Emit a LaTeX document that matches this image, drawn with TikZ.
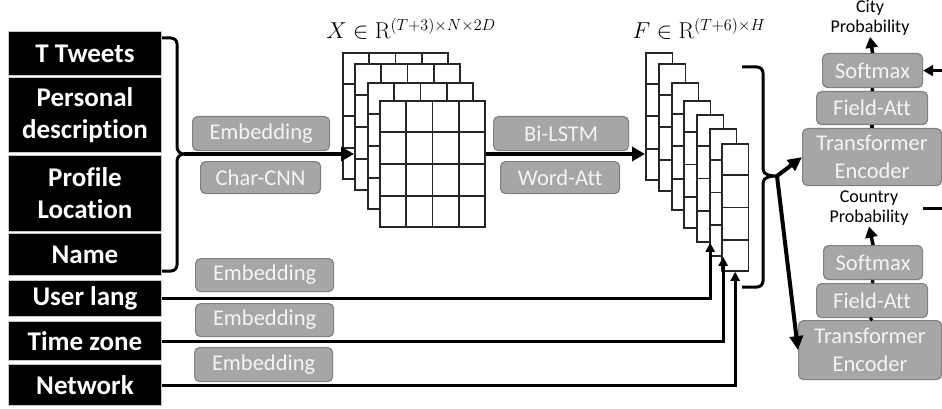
\documentclass[tikz,border=0pt]{standalone}
\usepackage{fix-cm}
\usepackage[no-math]{fontspec}
\setmainfont{Carlito}[Ligatures=CommonOff]
\usetikzlibrary{arrows.meta,calc}
\definecolor{gfill}{HTML}{A6A6A6}
\definecolor{gedge}{HTML}{808080}
\definecolor{gtext}{HTML}{F4F4F4}
\definecolor{gridc}{HTML}{262626}
\begin{document}
\begin{tikzpicture}[x=1pt,y=-1pt,
  blackbox/.style={draw=gray!45, line width=1pt, fill=black, text=white,
    font=\fontsize{27}{32}\selectfont\bfseries, align=center, inner sep=0pt,
    anchor=north west, minimum width=153pt},
  graybox/.style={draw=gedge, line width=1.2pt, fill=gfill, text=gtext,
    rounded corners=5pt, font=\fontsize{22.5}{28}\selectfont, align=center,
    inner sep=0pt, anchor=north west},
  problabel/.style={font=\fontsize{18}{20}\selectfont, align=center, inner sep=1pt},
  mathlabel/.style={font=\fontsize{23}{26}\selectfont, inner sep=0pt},
  xlayer/.style={draw=gridc, line width=1.8pt, fill=white, inner sep=0pt,
    anchor=north west, minimum width=105pt, minimum height=126pt},
  flayer/.style={draw=gridc, line width=1.8pt, fill=white, inner sep=0pt,
    anchor=north west, minimum width=26.5pt, minimum height=127pt},
  gridline/.style={draw=gridc, line width=1.8pt},
  mainarrow/.style={line width=4.5pt, -{Triangle[length=13pt,width=14pt]}},
  inarrow/.style={line width=3pt, -{Triangle[length=9pt,width=9pt]}},
  bracel/.style={line width=3pt},
  bigarrow/.style={line width=4pt, -{Triangle[length=14pt,width=13pt]}},
  vline/.style={line width=3.5pt},
  uparrow/.style={line width=3.5pt, -{Triangle[length=11pt,width=12pt]}},
  linkarrow/.style={line width=3pt, -{Triangle[length=10pt,width=11pt]}}
]
\path[use as bounding box] (0,0) rectangle (942,409);
\clip (0,0) rectangle (942,409);
\fill[white] (0,0) rectangle (942,409);

% left black boxes
\node[blackbox, minimum height=44pt] (tweets) at (8,31) {T Tweets};
\node[blackbox, minimum height=75pt] (desc) at (8,77) {Personal\\description};
\node[blackbox, minimum height=76pt] (loc) at (8,155) {Profile\\Location};
\node[blackbox, minimum height=42pt] (name) at (8,233) {Name};
\node[blackbox, minimum height=36pt] (lang) at (8,280) {User lang};
\node[blackbox, minimum height=39pt] (tz) at (8,321) {Time zone};
\node[blackbox, minimum height=41pt] (net) at (8,364) {Network};

% gray boxes
\node[graybox, minimum width=137pt, minimum height=34pt] (emb1) at (192,116) {Embedding};
\node[graybox, minimum width=120pt, minimum height=32pt] (cnn) at (200,161) {Char-CNN};
\node[graybox, minimum width=138pt, minimum height=33pt] (emb2) at (195,258) {Embedding};
\node[graybox, minimum width=138pt, minimum height=33pt] (emb3) at (195,303) {Embedding};
\node[graybox, minimum width=138pt, minimum height=34pt] (emb4) at (194,347) {Embedding};
\node[graybox, minimum width=135pt, minimum height=34pt] (lstm) at (493,116) {Bi-LSTM};
\node[graybox, minimum width=119pt, minimum height=32pt] (watt) at (500,161) {Word-Att};

% X tensor
\foreach \i/\px/\py in {1/342/52, 2/354/63, 3/367/82, 4/379/100} {
  \node[xlayer] (X\i) at (\px,\py) {};
  \foreach \k in {1,2,3} {
    \draw[gridline] ($(X\i.north west)!\k/4!(X\i.north east)$) -- ($(X\i.south west)!\k/4!(X\i.south east)$);
    \draw[gridline] ($(X\i.north west)!\k/4!(X\i.south west)$) -- ($(X\i.north east)!\k/4!(X\i.south east)$);
  }
}
\node[mathlabel] (xlab) at (411,29) {$X \in \mathrm{R}^{(T+3)\times N\times 2D}$};

% F tensor
\foreach \i/\px/\py in {1/645/52, 2/658/63, 3/671/82, 4/683/100, 5/696/114, 6/709/128, 7/721/143} {
  \node[flayer] (F\i) at (\px,\py) {};
  \foreach \k in {1,2,3} {
    \draw[gridline] ($(F\i.north west)!\k/4!(F\i.south west)$) -- ($(F\i.north east)!\k/4!(F\i.south east)$);
  }
}
\node[mathlabel] (flab) at (699,29) {$F \in \mathrm{R}^{(T+6)\times H}$};

% left brace
\coordinate (bl) at (184,154);
\draw[bracel] (162,38) -- (171,38) to[out=0,in=90] (177,44) -- (177,147) to[out=-90,in=180] (bl)
  to[out=180,in=90] (177,161) -- (177,265) to[out=-90,in=0] (171,271) -- (162,271);
\draw[mainarrow] (bl) -- (bl -| X2.west);
\draw[mainarrow] (bl -| X4.east) -- (bl -| F1.west);

% scalar inputs
\draw[inarrow] (lang.east) -| (F5.south);
\draw[inarrow] (tz.east) -| (F6.south);
\draw[inarrow] (net.east) -| (F7.south);

% right column
\node[graybox, minimum width=100pt, minimum height=34pt] (sm1) at (822,53) {Softmax};
\node[graybox, minimum width=111pt, minimum height=33pt] (fa1) at (816,91) {Field-Att};
\node[graybox, minimum width=139pt, minimum height=57pt] (te1) at (802,128) {Transformer\\Encoder};
\node[graybox, minimum width=99pt, minimum height=34pt] (sm2) at (823,245) {Softmax};
\node[graybox, minimum width=111pt, minimum height=34pt] (fa2) at (816,283) {Field-Att};
\node[graybox, minimum width=143pt, minimum height=59pt] (te2) at (798,320) {Transformer\\Encoder};
\node[problabel] (cityp) at (870,18) {City\\Probability};
\node[problabel] (countryp) at (869,208) {Country\\Probability};

\draw[vline] (te1.north) -- (fa1.south);
\draw[vline] (fa1.north) -- (sm1.south);
\draw[uparrow] (sm1.north) -- (cityp.south);
\draw[vline] (te2.north) -- (fa2.south);
\draw[vline] (fa2.north) -- (sm2.south);
\draw[uparrow] (sm2.north) -- (countryp.south);
\draw[linkarrow] (countryp -| sm2.east) -- ++(40,0) |- (sm1.east);

% right brace
\coordinate (rb) at (777,176);
\draw[bracel] (742,67) -- (757,67) to[out=0,in=90] (763,73) -- (763,169) to[out=-90,in=180] (rb)
  to[out=180,in=90] (763,183) -- (763,281) to[out=-90,in=0] (757,287) -- (742,287);
\draw[bigarrow] (rb) -- (te1.west);
\draw[bigarrow] (rb) -- (te2.west);
\end{tikzpicture}
\end{document}
